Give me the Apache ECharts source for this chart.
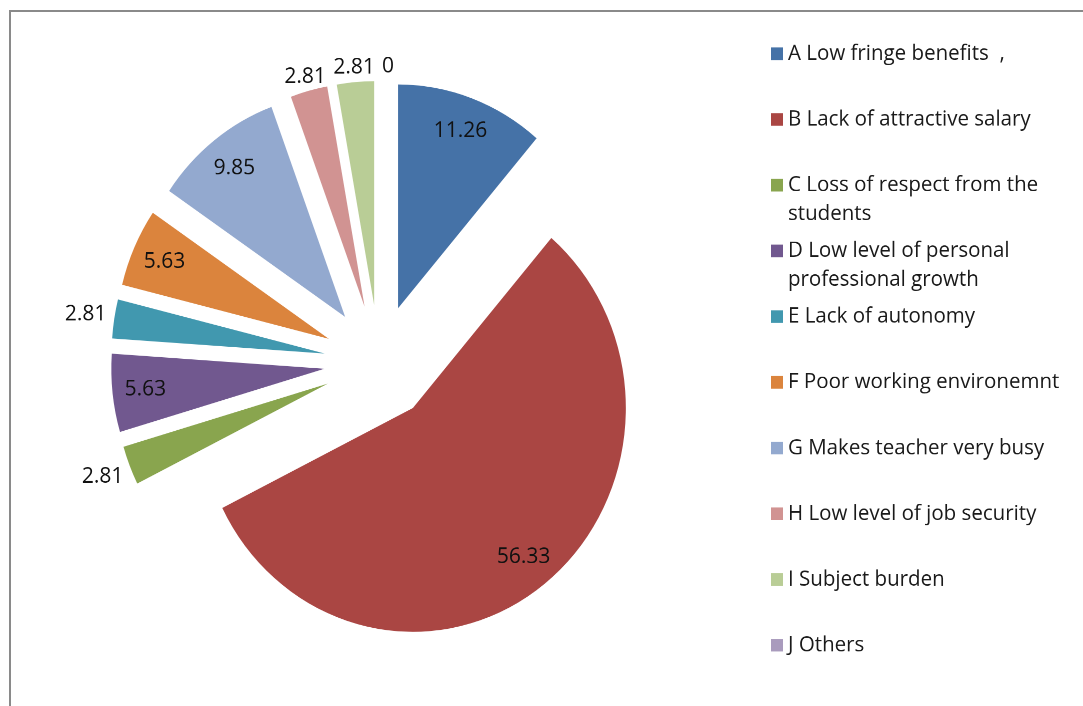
<!DOCTYPE html>
<html>
<head>
<meta charset="utf-8">
<script src="https://cdn.jsdelivr.net/npm/echarts@6/dist/echarts.min.js"></script>
<style>
html,body{margin:0;padding:0;background:#fff;overflow:hidden;}
#wrap{width:1083px;height:706px;overflow:hidden;}
#c{width:1083px;height:672px;transform:scaleY(1.0506);transform-origin:0 0;}
</style>
</head>
<body>
<div id="wrap"><div id="c"></div></div>
<script>
// ---- data ----
const categories = [
  'A Low fringe benefits  ,',
  'B Lack of attractive salary',
  'C Loss of respect from the students',
  'D Low level of personal professional growth',
  'E Lack of autonomy',
  'F Poor working environemnt',
  'G Makes teacher very busy',
  'H Low level of job security',
  'I Subject burden',
  'J Others'
];
const values = [11.26, 56.33, 2.81, 5.63, 2.81, 5.63, 9.85, 2.81, 2.81, 0];

// ---- styling ----
const colors = ['#4572A7', '#AA4643', '#89A54E', '#71588F', '#4198AF', '#DB843D', '#93A9CF', '#D19392', '#B9CD96', '#A99BBD'];
// label ring per slice: 0 = inside slice, 1 = outside (side), 2 = outside (top), 3 = outside (top, zero slice)
const labelRing = [0, 0, 1, 0, 1, 0, 0, 2, 2, 3];
// legend line breaks
const legendText = {
  'C Loss of respect from the students': 'C Loss of respect from the\nstudents',
  'D Low level of personal professional growth': 'D Low level of personal\nprofessional growth'
};

const FONT = '"Open Sans", sans-serif';
const CENTER = [379, 345];
const R = 213;
const OFFSET = 55;
const LINE_H = 27.6;
const LEGEND_FIRST = 47.6;
const LEGEND_STEP = 62.55;
const LEGEND_FS = 20.5;

const chart = echarts.init(document.getElementById('c'), null, {renderer: 'canvas', devicePixelRatio: 2});

function labelSeries(ring, radius, labelPadding) {
  return {
    type: 'pie',
    center: CENTER,
    radius: radius,
    startAngle: 90,
    clockwise: true,
    selectedMode: 'multiple',
    selectedOffset: OFFSET,
    avoidLabelOverlap: false,
    labelLayout: {hideOverlap: false},
    silent: true,
    legendHoverLink: false,
    labelLine: {show: false},
    emphasis: {disabled: true},
    select: {itemStyle: {borderWidth: 0}},
    label: {
      position: 'inside',
      color: '#111',
      fontFamily: FONT,
      fontSize: 21,
      overflow: 'none',
      padding: labelPadding || 0,
      formatter: p => String(values[p.dataIndex])
    },
    data: categories.map((n, i) => ({
      name: n,
      // helper ring only places the label; a zero value still needs a sliver to anchor it
      value: Math.max(values[i], 1e-6),
      selected: true,
      itemStyle: {color: 'rgba(0,0,0,0)', borderWidth: 0},
      label: {show: labelRing[i] === ring}
    }))
  };
}

const legends = categories.map((n, i) => {
  const txt = legendText[n] || n;
  const extra = txt.split('\n').length - 1;
  return {
    orient: 'vertical',
    left: 771,
    top: LEGEND_FIRST + i * LEGEND_STEP - LEGEND_FS / 2 - extra * LINE_H,
    padding: 0,
    itemWidth: 12,
    itemHeight: 12,
    icon: 'rect',
    selectedMode: false,
    data: [n],
    // leading blank lines keep the marker level with the first text line
    formatter: nm => '\n'.repeat(extra) + (legendText[nm] || nm),
    textStyle: {
      fontFamily: FONT,
      fontSize: LEGEND_FS,
      color: '#1a1a1a',
      lineHeight: LINE_H
    }
  };
});

chart.setOption({
  animation: false,
  backgroundColor: '#fff',
  color: colors,
  graphic: [{
    type: 'rect',
    shape: {x: 10, y: 10.5, width: 1200, height: 900},
    style: {fill: 'none', stroke: '#8a8a8a', lineWidth: 2},
    silent: true,
    z: -10
  }],
  legend: legends,
  series: [
    {
      type: 'pie',
      center: CENTER,
      radius: [0, R],
      startAngle: 90,
      clockwise: true,
      selectedMode: 'multiple',
      selectedOffset: OFFSET,
      avoidLabelOverlap: false,
      silent: true,
      label: {show: false},
      labelLine: {show: false},
      emphasis: {disabled: true},
      select: {itemStyle: {borderWidth: 0}},
      data: categories.map((n, i) => ({
        name: n, value: values[i], selected: true,
        itemStyle: {color: colors[i], borderWidth: 0}
      }))
    },
    labelSeries(0, [141, R]),
    labelSeries(1, [R, 265]),
    labelSeries(2, [R, 235]),
    labelSeries(3, [R, 235], [0, 0, 0, 18])
  ]
});
</script>
</body>
</html>
